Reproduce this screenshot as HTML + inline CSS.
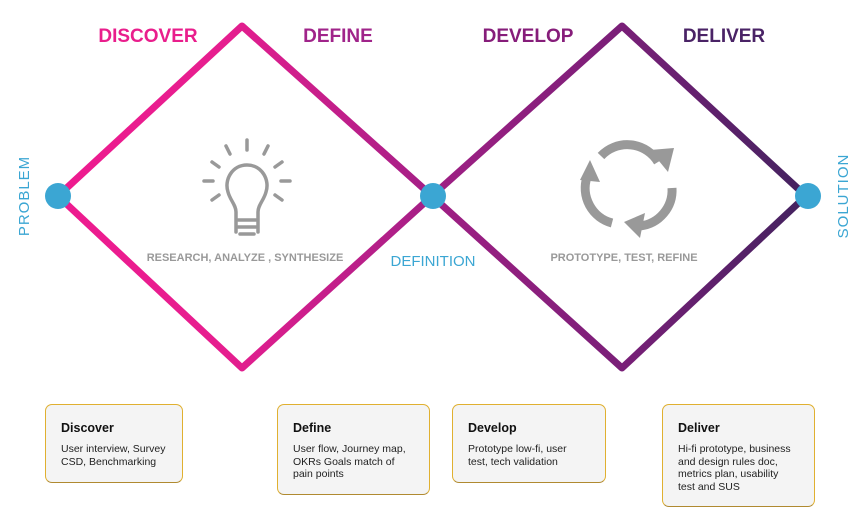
<!DOCTYPE html>
<html><head><meta charset="utf-8"><style>
body{margin:0;width:867px;height:522px;background:#fff;position:relative;overflow:hidden;font-family:"Liberation Sans",sans-serif}
.b{position:absolute;top:404px;box-sizing:border-box;border:1px solid #e0b030;border-bottom-color:#b08a30;border-radius:7px;background:#f4f4f4;padding:16px 14px 0 15px}
.b h{display:block;font-weight:bold;font-size:12.5px;color:#111;margin-bottom:8px}
.b p{margin:0;font-size:10.5px;line-height:12.5px;color:#222}
</style></head><body>
<svg width="867" height="522" style="position:absolute;left:0;top:0">
<defs>
<linearGradient id="g1" x1="58" y1="0" x2="432" y2="0" gradientUnits="userSpaceOnUse"><stop offset="0" stop-color="#ee1b8f"/><stop offset="0.45" stop-color="#e61e8f"/><stop offset="1" stop-color="#a31f86"/></linearGradient>
<linearGradient id="g2" x1="432" y1="0" x2="806" y2="0" gradientUnits="userSpaceOnUse"><stop offset="0" stop-color="#a01f84"/><stop offset="0.5" stop-color="#7a1f78"/><stop offset="1" stop-color="#43225f"/></linearGradient>
</defs>
<polygon points="58,196 242,26 432,196 242,368" fill="none" stroke="url(#g1)" stroke-width="7" stroke-linejoin="round"/>
<polygon points="432,196 622,26 806,196 622,368" fill="none" stroke="url(#g2)" stroke-width="7" stroke-linejoin="round"/>
<circle cx="58" cy="196" r="13" fill="#3ba6d3"/>
<circle cx="433" cy="196" r="13" fill="#3ba6d3"/>
<circle cx="808" cy="196" r="13" fill="#3ba6d3"/>
<g font-family="Liberation Sans,sans-serif" font-weight="bold" font-size="19" text-anchor="middle">
<text x="148" y="42" fill="#e91e8c">DISCOVER</text>
<text x="338" y="42" fill="#a0248a">DEFINE</text>
<text x="528" y="42" fill="#861d7a">DEVELOP</text>
<text x="724" y="42" fill="#4a2366">DELIVER</text>
</g>
<g font-family="Liberation Sans,sans-serif" fill="#3ba6d3" font-size="15">
<text transform="translate(29,196) rotate(-90)" text-anchor="middle" letter-spacing="1">PROBLEM</text>
<text transform="translate(848,196) rotate(-90)" text-anchor="middle" letter-spacing="1">SOLUTION</text>
<text x="433" y="266" text-anchor="middle">DEFINITION</text>
</g>
<g font-family="Liberation Sans,sans-serif" font-weight="bold" fill="#999" font-size="11" text-anchor="middle">
<text x="245" y="261">RESEARCH, ANALYZE , SYNTHESIZE</text>
<text x="624" y="261">PROTOTYPE, TEST, REFINE</text>
</g>
<g stroke="#999" stroke-width="3.5" fill="none" stroke-linecap="round">
<path d="M236,232 L236,212 C236,205 230,200 228,192 C224,180 232,165 247,165 C262,165 270,180 266,192 C264,200 258,205 258,212 L258,232"/>
<path d="M238,220 h18 M238,227 h18 M240,234 h14"/>
<path d="M247,140 v10 M226,146 l4,8 M268,146 l-4,8 M212,162 l7,5 M282,162 l-7,5 M204,181 h9 M281,181 h9 M212,200 l7,-5 M282,200 l-7,-5"/>
</g>
<g stroke="#999" stroke-width="9" fill="none">
<path d="M601,156 A36,36 0 0 1 658,162"/>
<path d="M672,188 A36,36 0 0 1 640,226"/>
<path d="M612,223 A36,36 0 0 1 587,177"/>
</g>
<g fill="#999">
<polygon points="650,150 674,148 668,172"/>
<polygon points="645,213 640,238 624,222"/>
<polygon points="580,180 600,182 590,160"/>
</g>
</svg>
<div class="b" style="left:45px;width:138px;height:79px"><h>Discover</h><p>User interview, Survey<br>CSD, Benchmarking</p></div>
<div class="b" style="left:277px;width:153px;height:91px"><h>Define</h><p>User flow, Journey map,<br>OKRs Goals match of<br>pain points</p></div>
<div class="b" style="left:452px;width:154px;height:79px"><h>Develop</h><p>Prototype low-fi, user<br>test, tech validation</p></div>
<div class="b" style="left:662px;width:153px;height:103px"><h>Deliver</h><p>Hi-fi prototype, business<br>and design rules doc,<br>metrics plan, usability<br>test and SUS</p></div>
</body></html>
